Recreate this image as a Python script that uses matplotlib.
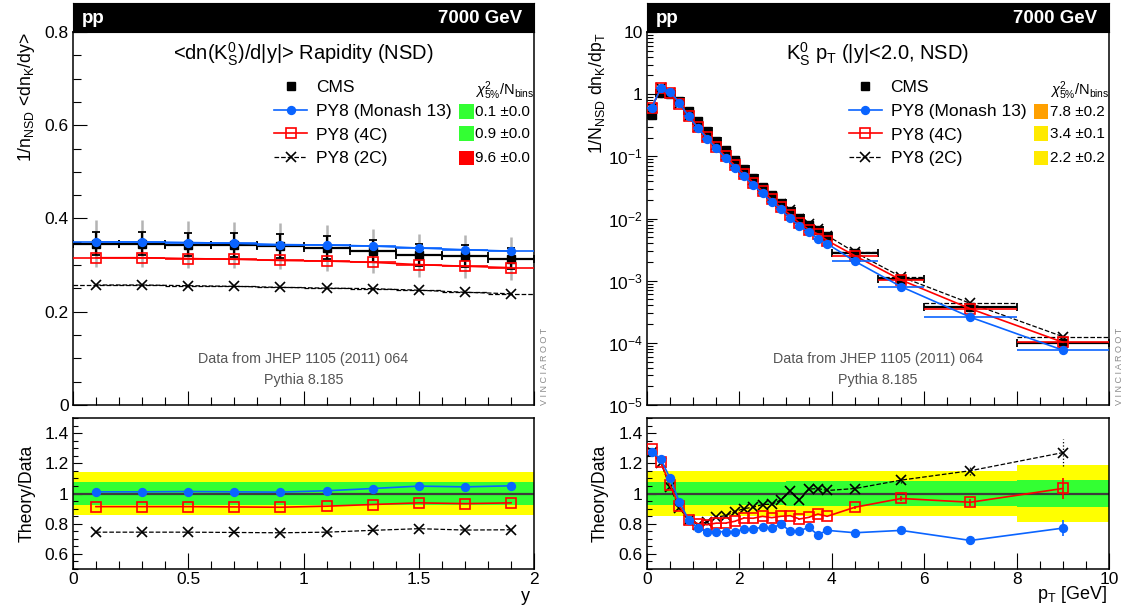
import numpy as np
import matplotlib
matplotlib.use("Agg")
import matplotlib.pyplot as plt
from matplotlib.patches import Rectangle
from matplotlib.lines import Line2D
from matplotlib.ticker import MultipleLocator, FixedLocator, FixedFormatter, NullFormatter, FuncFormatter

plt.rcParams['font.family'] = ['Liberation Sans', 'DejaVu Sans']
plt.rcParams['mathtext.fontset'] = 'custom'
plt.rcParams['mathtext.rm'] = 'Liberation Sans'
plt.rcParams['mathtext.it'] = 'Liberation Sans:italic'
plt.rcParams['mathtext.bf'] = 'Liberation Sans:bold'

# ---------------- Rapidity panel data ----------------
y_edges = [0.0, 0.2, 0.4, 0.6, 0.8, 1.0, 1.2, 1.4, 1.6, 1.8, 2.0]
y_cms = [0.346, 0.346, 0.344, 0.343, 0.341, 0.337, 0.330, 0.321, 0.319, 0.314]
y_band_green = [0.073, 0.073, 0.073, 0.073, 0.073, 0.073, 0.073, 0.073, 0.073, 0.073]
y_band_yellow = [0.145, 0.145, 0.145, 0.145, 0.145, 0.145, 0.145, 0.145, 0.145, 0.145]
y_monash = [0.3498, 0.3498, 0.3485, 0.3468, 0.3441, 0.3431, 0.3409, 0.3367, 0.3330, 0.3300]
y_4c = [0.3159, 0.3159, 0.3141, 0.3125, 0.3100, 0.3087, 0.3059, 0.3011, 0.2976, 0.2945]
y_2c = [0.2574, 0.2574, 0.2559, 0.2545, 0.2523, 0.2507, 0.2495, 0.2462, 0.2418, 0.2386]
y_mc_relerr = [0.003, 0.003, 0.003, 0.003, 0.003, 0.003, 0.003, 0.003, 0.003, 0.003]
y_chi2 = ["0.1 \u00b10.0", "0.9 \u00b10.0", "9.6 \u00b10.0"]
y_chi2_colors = ["#33ff33", "#33ff33", "#ff0000"]

# ---------------- pT panel data ----------------
pt_edges = [0.0, 0.2, 0.4, 0.6, 0.8, 1.0, 1.2, 1.4, 1.6, 1.8, 2.0, 2.2, 2.4, 2.6,
            2.8, 3.0, 3.2, 3.4, 3.6, 3.8, 4.0, 5.0, 6.0, 8.0, 10.0]
pt_cms = [0.47, 1.03, 1.00, 0.77, 0.53, 0.373, 0.259, 0.179, 0.1245, 0.088, 0.0624,
          0.0452, 0.0327, 0.0241, 0.0177, 0.0134, 0.0101, 0.0079, 0.0065, 0.0052,
          0.00277, 0.00106, 0.000375, 0.000099]
pt_band_green = [0.073] * 15 + [0.080] * 8 + [0.092]
pt_band_yellow = [0.148] * 15 + [0.152] * 8 + [0.188]
pt_monash = [0.6007, 1.2638, 1.100, 0.7269, 0.4383, 0.2876, 0.1935, 0.1337, 0.0930,
             0.06574, 0.04767, 0.03453, 0.02544, 0.01856, 0.01412, 0.01006, 0.007605,
             0.006123, 0.004726, 0.003931, 0.00205, 0.000801, 0.0002584, 0.0000763]
pt_4c = [0.6077, 1.2453, 1.053, 0.7053, 0.4383, 0.2984, 0.2054, 0.1439, 0.1001,
         0.07181, 0.05229, 0.03779, 0.02776, 0.02024, 0.01503, 0.01143, 0.008393,
         0.006652, 0.005616, 0.004415, 0.002518, 0.001025, 0.0003533, 0.0001023]
pt_2c = [0.6007, 1.2401, 1.042, 0.6961, 0.4383, 0.2958, 0.2106, 0.1511, 0.1062,
         0.07744, 0.05616, 0.04109, 0.03031, 0.02239, 0.01696, 0.01364, 0.009676,
         0.008129, 0.006715, 0.005304, 0.002861, 0.001154, 0.0004316, 0.0001258]
pt_mc_relerr = [0.004] * 20 + [0.01, 0.015, 0.025, 0.07]
pt_chi2 = ["7.8 \u00b10.2", "3.4 \u00b10.1", "2.2 \u00b10.2"]
pt_chi2_colors = ["#ffa000", "#ffea00", "#ffea00"]

mc_labels = ["PY8 (Monash 13)", "PY8 (4C)", "PY8 (2C)"]
BLUE = "#0a64ff"
RED = "#ff0000"
mc_styles = [
    dict(color=BLUE, marker='o', ms=5.5, mfc=BLUE, mec=BLUE, ls='-', lw=1.2, z=6),
    dict(color=RED, marker='s', ms=7.5, mfc='none', mec=RED, ls='-', lw=1.2, z=5),
    dict(color='black', marker='x', ms=7.5, mfc='none', mec='black', ls='--', lw=0.9, z=4),
]

W, H = 1126, 615
fig = plt.figure(figsize=(W / 100, H / 100), dpi=100)


def add_ax(x0, y0, x1, y1):
    return fig.add_axes([x0 / W, 1 - y1 / H, (x1 - x0) / W, (y1 - y0) / H])


def style_axes(ax):
    for s in ax.spines.values():
        s.set_linewidth(1.1)
    ax.tick_params(which='both', direction='in', top=False, right=False, width=0.8,
                   labelsize=12.5, pad=3)


def header(x0, x1):
    hax = add_ax(x0, 3, x1, 32)
    hax.set_facecolor('black')
    hax.set_xticks([])
    hax.set_yticks([])
    for s in hax.spines.values():
        s.set_color('black')
    hax.text(0.02, 0.48, "pp", color='white', fontsize=13.5, fontweight='bold',
             ha='left', va='center', transform=hax.transAxes)
    hax.text(0.975, 0.48, "7000 GeV", color='white', fontsize=13.5, fontweight='bold',
             ha='right', va='center', transform=hax.transAxes)


def draw_top(ax, edges, data, green, yellow, mcs, chi2, chi2_col, title):
    edges = np.asarray(edges)
    c = 0.5 * (edges[1:] + edges[:-1])
    hw = 0.5 * (edges[1:] - edges[:-1])
    data = np.asarray(data)
    ax.errorbar(c, data, yerr=data * np.asarray(yellow), fmt='none', ecolor='#b4b4b4',
                elinewidth=1.8, zorder=2)
    ax.errorbar(c, data, xerr=hw, yerr=data * np.asarray(green), fmt='s', color='black',
                ms=6, elinewidth=1.6, capsize=3, capthick=1.3, zorder=3)
    for vals, st in zip(mcs, mc_styles):
        eb = ax.errorbar(c, vals, xerr=hw, fmt=st['marker'], ls=st['ls'], lw=st['lw'],
                         color=st['color'], ms=st['ms'], mfc=st['mfc'], mec=st['mec'],
                         mew=1.2, elinewidth=st['lw'], capsize=0, zorder=st['z'])
        for ln in eb[2]:
            ln.set_linestyle(st['ls'])
    # legend
    handles = [Line2D([], [], marker='s', ls='none', color='black', ms=6)]
    for st in mc_styles:
        handles.append(Line2D([], [], marker=st['marker'], ls=st['ls'], lw=st['lw'],
                              color=st['color'], ms=st['ms'], mfc=st['mfc'],
                              mec=st['mec'], mew=1.2))
    ax.legend(handles, ["CMS"] + mc_labels, loc='upper left', bbox_to_anchor=(0.437, 0.872),
              frameon=False, fontsize=12.5, handlelength=1.9, handletextpad=0.5,
              labelspacing=0.5, borderpad=0, borderaxespad=0)
    ax.text(0.873, 0.842, r"$\chi^2_{5\%}$/N$_{\mathrm{bins}}$", fontsize=10.5,
            ha='left', va='center', transform=ax.transAxes)
    for i, (t, col) in enumerate(zip(chi2, chi2_col)):
        yy = [0.786, 0.727, 0.662][i]
        ax.add_patch(Rectangle((0.838, yy - 0.019), 0.031, 0.039, transform=ax.transAxes,
                               facecolor=col, edgecolor='none', zorder=7))
        ax.text(0.873, yy, t, fontsize=11, ha='left', va='center', transform=ax.transAxes)
    ax.text(0.5, 0.94, title, fontsize=14.5, ha='center', va='center',
            transform=ax.transAxes)
    ax.text(0.5, 0.123, "Data from JHEP 1105 (2011) 064", fontsize=10.3, color='#555555',
            ha='center', va='center', transform=ax.transAxes)
    ax.text(0.5, 0.067, "Pythia 8.185", fontsize=10.3, color='#555555',
            ha='center', va='center', transform=ax.transAxes)
    ax.text(1.013, 0.0, "V I N C I A R O O T", fontsize=6.5, color='#8a8a8a', rotation=90,
            ha='left', va='bottom', transform=ax.transAxes)
    ax.set_xlim(edges[0], edges[-1])
    ax.xaxis.set_major_formatter(NullFormatter())


def draw_ratio(ax, edges, data, green, yellow, mcs, relerr):
    edges = np.asarray(edges)
    c = 0.5 * (edges[1:] + edges[:-1])
    data = np.asarray(data)
    yellow = np.asarray(yellow)
    green = np.asarray(green)
    ax.stairs(1 + yellow, edges, baseline=1 - yellow, fill=True, color='#ffff00', lw=0,
              zorder=1)
    ax.stairs(1 + green, edges, baseline=1 - green, fill=True, color='#33ff33', lw=0,
              zorder=1.5)
    ax.axhline(1.0, color='#3c3c3c', lw=1.6, zorder=2)
    for vals, st in zip(mcs, mc_styles):
        r = np.asarray(vals) / data
        eb = ax.errorbar(c, r, yerr=r * np.asarray(relerr), fmt=st['marker'], ls=st['ls'],
                         lw=st['lw'], color=st['color'], ms=st['ms'], mfc=st['mfc'],
                         mec=st['mec'], mew=1.2, elinewidth=st['lw'], capsize=0,
                         zorder=st['z'])
        for ln in eb[2]:
            ln.set_linestyle(':' if st['ls'] == '--' else '-')
    ax.set_xlim(edges[0], edges[-1])
    ax.set_ylim(0.5, 1.5)
    ax.yaxis.set_major_locator(FixedLocator([0.6, 0.8, 1.0, 1.2, 1.4]))
    ax.yaxis.set_major_formatter(FuncFormatter(lambda v, p: "%g" % v))
    ax.yaxis.set_minor_locator(MultipleLocator(0.05))
    ax.tick_params(axis='y', which='major', length=6.5)
    ax.tick_params(axis='y', which='minor', length=3.6)
    ax.tick_params(axis='x', which='major', length=11.5, pad=2)
    ax.tick_params(axis='x', which='minor', length=5.8)
    ax.set_ylabel("Theory/Data", fontsize=12.7)


# ---------------- Left: rapidity ----------------
axL = add_ax(73, 32, 534, 405)
style_axes(axL)
draw_top(axL, y_edges, y_cms, y_band_green, y_band_yellow, [y_monash, y_4c, y_2c],
         y_chi2, y_chi2_colors, r"<dn(K$^{0}_{\mathrm{S}}$)/d|y|> Rapidity (NSD)")
axL.set_ylim(0, 0.8)
axL.yaxis.set_major_locator(MultipleLocator(0.2))
axL.yaxis.set_major_formatter(FuncFormatter(lambda v, p: "%g" % v))
axL.yaxis.set_minor_locator(MultipleLocator(0.05))
axL.xaxis.set_major_locator(MultipleLocator(0.5))
axL.xaxis.set_minor_locator(MultipleLocator(0.1))
axL.tick_params(which='major', length=10)
axL.tick_params(which='minor', length=5.8)
axL.set_ylabel(r"1/n$_{\mathrm{NSD}}$ <dn$_{\mathrm{K}}$/dy>", fontsize=12.7)
axL.yaxis.set_label_coords(-0.078, 1.0)
axL.yaxis.label.set_va('bottom')
axL.yaxis.label.set_ha('right')
header(73, 534)

axLr = add_ax(73, 418, 534, 569)
style_axes(axLr)
draw_ratio(axLr, y_edges, y_cms, y_band_green, y_band_yellow, [y_monash, y_4c, y_2c],
           y_mc_relerr)
axLr.xaxis.set_major_locator(MultipleLocator(0.5))
axLr.xaxis.set_major_formatter(FuncFormatter(lambda v, p: "%g" % v))
axLr.xaxis.set_minor_locator(MultipleLocator(0.1))
axLr.yaxis.set_label_coords(-0.08, 0.5)
axLr.text(0.991, -0.185, "y", fontsize=13, ha='right', va='center', transform=axLr.transAxes)

# ---------------- Right: pT ----------------
axR = add_ax(647, 32, 1109, 405)
style_axes(axR)
axR.set_yscale('log')
draw_top(axR, pt_edges, pt_cms, pt_band_green, pt_band_yellow, [pt_monash, pt_4c, pt_2c],
         pt_chi2, pt_chi2_colors,
         r"K$^{0}_{\mathrm{S}}$ p$_{\mathrm{T}}$ (|y|<2.0, NSD)")
axR.set_ylim(1e-5, 10)
dec = [1e-5, 1e-4, 1e-3, 1e-2, 1e-1, 1, 10]
axR.yaxis.set_major_locator(FixedLocator(dec))
axR.yaxis.set_major_formatter(FixedFormatter([r"$10^{-5}$", r"$10^{-4}$", r"$10^{-3}$",
                                              r"$10^{-2}$", r"$10^{-1}$", "1", "10"]))
minors = [m * d for d in dec[:-1] for m in range(2, 10)]
axR.yaxis.set_minor_locator(FixedLocator(minors))
axR.yaxis.set_minor_formatter(NullFormatter())
axR.xaxis.set_major_locator(MultipleLocator(2))
axR.xaxis.set_minor_locator(MultipleLocator(0.5))
axR.tick_params(axis='y', which='major', length=7)
axR.tick_params(axis='y', which='minor', length=4)
axR.tick_params(axis='x', which='major', length=10)
axR.tick_params(axis='x', which='minor', length=5.8)
axR.set_ylabel(r"1/N$_{\mathrm{NSD}}$ dn$_{\mathrm{K}}$/dp$_{\mathrm{T}}$", fontsize=12.7)
axR.yaxis.set_label_coords(-0.085, 1.0)
axR.yaxis.label.set_va('bottom')
axR.yaxis.label.set_ha('right')
header(647, 1109)

axRr = add_ax(647, 418, 1109, 569)
style_axes(axRr)
draw_ratio(axRr, pt_edges, pt_cms, pt_band_green, pt_band_yellow, [pt_monash, pt_4c, pt_2c],
           pt_mc_relerr)
axRr.xaxis.set_major_locator(MultipleLocator(2))
axRr.xaxis.set_major_formatter(FuncFormatter(lambda v, p: "%g" % v))
axRr.xaxis.set_minor_locator(MultipleLocator(0.5))
axRr.yaxis.set_label_coords(-0.083, 0.5)
axRr.text(0.996, -0.17, r"p$_{\mathrm{T}}$ [GeV]", fontsize=13, ha='right', va='center',
          transform=axRr.transAxes)

fig.savefig("out.png", dpi=100)
